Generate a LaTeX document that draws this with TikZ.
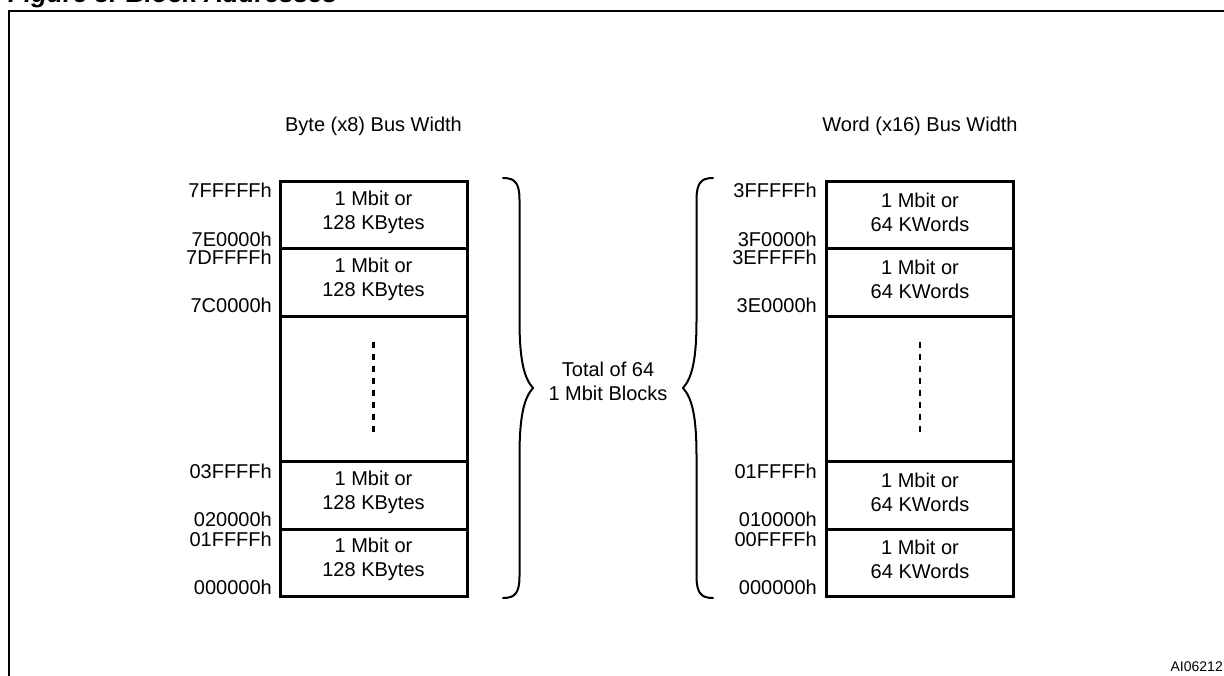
\documentclass[tikz,border=0pt]{standalone}
\usepackage{fontspec}
\setmainfont{Liberation Sans}
\begin{document}
\begin{tikzpicture}[x=1pt,y=-1pt,
  blk/.style={draw, line width=3pt, inner sep=0pt, outer sep=0pt, minimum width=187pt, anchor=north west},
  txt/.style={font=\fontsize{20}{24}\selectfont, align=center, inner sep=0pt},
  addr/.style={font=\fontsize{20}{24}\selectfont, inner sep=0pt, anchor=base east},
  brace/.style={line width=2pt, line cap=round},
  dots/.style={line width=2.5pt, dash pattern=on 6pt off 6pt}]
\useasboundingbox (0,0) rectangle (1224,675);
% frame and cut title
\draw[line width=2.5pt] (9,700) -- (9,11) -- (1240,11);
\node[font=\fontsize{26}{30}\selectfont\bfseries\itshape, inner sep=0pt, anchor=base west] (title) at (8,2) {Figure 3. Block Addresses};
% headers
\node[txt, anchor=base] (hb) at (373.5,131) {Byte (x8) Bus Width};
\node[txt, anchor=base] (hw) at (920,131) {Word (x16) Bus Width};
% left column
\node[blk, minimum height=67pt] (b1) at (280,181.5) {};
\node[blk, minimum height=67.5pt] (b2) at (280,248.5) {};
\node[blk, minimum height=145.5pt] (b3) at (280,316) {};
\node[blk, minimum height=67.5pt] (b4) at (280,461.5) {};
\node[blk, minimum height=67pt] (b5) at (280,529) {};
\node[txt] (tb1) at ([yshift=3pt]b1.center) {1 Mbit or\\128 KBytes};
\node[txt] (tb2) at ([yshift=3pt]b2.center) {1 Mbit or\\128 KBytes};
\node[txt] (tb4) at ([yshift=3pt]b4.center) {1 Mbit or\\128 KBytes};
\node[txt] (tb5) at ([yshift=3pt]b5.center) {1 Mbit or\\128 KBytes};
\coordinate (db1) at (373.5,341.7);
\coordinate (db2) at (373.5,431.7);
\draw[dots] (db1) -- (db2);
\node[addr] (la1) at (272,197.5) {7FFFFFh};
\node[addr] (la2) at (272,246) {7E0000h};
\node[addr] (la3) at (272,264.5) {7DFFFFh};
\node[addr] (la4) at (272,312) {7C0000h};
\node[addr] (la5) at (272,478.5) {03FFFFh};
\node[addr] (la6) at (272,526.5) {020000h};
\node[addr] (la7) at (272,546) {01FFFFh};
\node[addr] (la8) at (272,594.5) {000000h};
% right column
\node[blk, minimum height=67pt] (w1) at (826.5,181.5) {};
\node[blk, minimum height=67.5pt] (w2) at (826.5,248.5) {};
\node[blk, minimum height=145.5pt] (w3) at (826.5,316) {};
\node[blk, minimum height=67.5pt] (w4) at (826.5,461.5) {};
\node[blk, minimum height=67pt] (w5) at (826.5,529) {};
\node[txt] (tw1) at ([yshift=3pt]w1.center) {1 Mbit or\\64 KWords};
\node[txt] (tw2) at ([yshift=3pt]w2.center) {1 Mbit or\\64 KWords};
\node[txt] (tw4) at ([yshift=3pt]w4.center) {1 Mbit or\\64 KWords};
\node[txt] (tw5) at ([yshift=3pt]w5.center) {1 Mbit or\\64 KWords};
\coordinate (dw1) at (920,341.7);
\coordinate (dw2) at (920,431.7);
\draw[dots] (dw1) -- (dw2);
\node[addr] (ra1) at (817,197.5) {3FFFFFh};
\node[addr] (ra2) at (817,246) {3F0000h};
\node[addr] (ra3) at (817,264.5) {3EFFFFh};
\node[addr] (ra4) at (817,312) {3E0000h};
\node[addr] (ra5) at (817,478.5) {01FFFFh};
\node[addr] (ra6) at (817,526.5) {010000h};
\node[addr] (ra7) at (817,546) {00FFFFh};
\node[addr] (ra8) at (817,594.5) {000000h};
% braces
\draw[brace] (503,178) .. controls (515,178) and (519.5,183) .. (519.5,200)
  -- (519.5,320) .. controls (519.5,360) and (524,378) .. (533,388)
  .. controls (524,398) and (519.5,416) .. (519.5,456)
  -- (519.5,576) .. controls (519.5,593) and (515,598) .. (503,598);
\draw[brace] (713,178) .. controls (701,178) and (696.5,183) .. (696.5,200)
  -- (696.5,320) .. controls (696.5,360) and (692,378) .. (683,388)
  .. controls (692,398) and (696.5,416) .. (696.5,456)
  -- (696.5,576) .. controls (696.5,593) and (701,598) .. (713,598);
\node[txt] (total) at (608,381.5) {Total of 64\\1 Mbit Blocks};
% figure id
\node[font=\fontsize{14}{16}\selectfont, inner sep=0pt, anchor=base east] (id) at (1223,671.5) {AI06212};
\end{tikzpicture}
\end{document}
